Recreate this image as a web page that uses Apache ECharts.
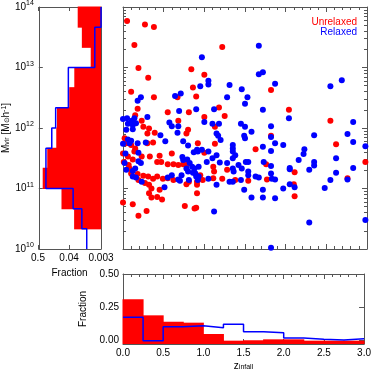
<!DOCTYPE html>
<html><head><meta charset="utf-8">
<script src="https://cdn.jsdelivr.net/npm/echarts@6/dist/echarts.min.js"></script>
<style>html,body{margin:0;padding:0;background:#fff}#c{width:374px;height:374px}</style>
</head><body><div id="c"></div><script>
// ---- data ----
// scatter points: [z_infall, log10(M_vir / (M_sun h^-1))]
const unrelaxedPoints = [
[0.05,13.77],[0.27,13.71],[0.38,13.67],[0.14,13.37],[1.22,13.34],[0.19,12.99],[0.31,12.83],[0.84,12.97],[1.00,12.88],[0.10,12.60],[0.86,12.67],[0.38,12.51],[0.90,12.52],[0.67,12.51],[1.18,12.34],[0.18,12.32],[1.82,12.63],[2.04,12.30],
[1.00,12.18],[1.25,12.20],[1.13,12.02],[1.82,11.87],[0.92,11.75],[1.13,11.74],[1.00,11.59],[1.63,11.65],[1.76,11.40],[1.11,11.36],[1.12,11.28],[1.28,11.31],[0.95,11.22],[0.98,11.14],[0.91,11.11],[1.11,11.17],[1.22,11.16],[1.38,11.14],[1.54,11.13],[1.77,11.15],[0.91,11.06],[0.91,10.92],[0.90,10.68],
[2.55,12.12],[2.62,11.73],[2.98,11.44],[2.11,11.27],[2.10,11.07],[2.11,10.87],[2.76,11.17],
[0.15,12.21],[0.23,12.12],[0.25,12.02],[0.32,11.99],[0.30,11.91],[0.39,11.92],[0.55,12.26],[0.81,12.26],[0.78,11.91],[0.80,11.97],[0.68,12.12],[0.37,11.76],[0.30,11.75],[0.02,11.83],[0.04,11.75],[0.10,11.72],[0.00,11.58],[0.01,11.44],[0.06,11.53],[0.07,11.39],[0.12,11.48],[0.23,11.53],[0.33,11.53],[0.14,11.61],[0.15,11.66],[0.45,11.54],[0.42,11.44],[0.47,11.44],[0.60,11.58],[0.55,11.40],[0.62,11.40],[0.68,11.39],[0.74,11.40],[0.78,11.39],[0.08,11.33],[0.10,11.25],[0.18,11.24],[0.25,11.21],[0.31,11.20],[0.37,11.16],[0.42,11.20],[0.49,11.16],[0.55,11.17],[0.62,11.14],[0.19,11.14],[0.27,11.09],[0.32,11.06],[0.35,11.00],[0.32,10.92],[0.35,10.85],[0.42,10.86],[0.48,10.82],[0.45,10.98],[0.78,11.07],[0.81,11.11],[0.00,10.77],[0.12,10.74],[0.19,10.55],[0.29,10.63],[0.76,10.71],[0.88,10.67]
];
const relaxedPoints = [
[0.97,13.17],[1.05,12.78],[1.05,12.72],[0.95,12.69],[1.31,12.71],[1.46,12.64],[0.71,12.57],[0.64,12.53],[0.22,12.51],[0.18,12.45],[1.28,12.51],[1.53,12.51],[1.50,12.40],[0.90,12.31],[1.12,12.31],[0.69,12.28],[1.67,13.36],[1.67,12.89],[1.72,12.92],[1.87,12.73],[2.55,12.69],[2.69,12.79],[1.72,12.30],
[1.00,12.10],[1.10,12.07],[1.18,12.07],[1.45,12.07],[1.50,12.02],[1.82,12.03],[1.58,11.94],[1.15,11.91],[1.17,11.87],[1.20,11.80],[1.49,11.87],[1.50,11.83],[1.82,11.85],[1.87,11.75],[1.97,11.72],[1.72,11.69],[1.82,11.62],[0.91,11.64],[0.97,11.64],[1.05,11.61],[1.35,11.72],[1.35,11.66],[1.35,11.61],[1.15,11.55],[1.10,11.50],[1.03,11.44],[1.19,11.43],[1.28,11.42],[1.35,11.50],[1.38,11.55],[1.42,11.39],[1.46,11.33],[1.51,11.44],[1.54,11.44],[1.54,11.28],[1.54,11.22],[1.73,11.44],[1.82,11.37],[1.82,11.25],[1.83,11.16],[1.87,11.15],[1.63,11.20],[1.67,11.18],[1.35,11.33],[1.36,11.28],[1.31,11.11],[1.35,11.11],[1.45,11.14],[0.93,11.36],[0.89,11.25],[0.93,11.20],[1.05,11.16],[1.15,11.06],[1.49,10.98],[1.58,10.85],[1.72,10.98],[1.72,10.85],[1.87,10.84],[1.97,11.00],[1.12,10.62],[1.82,10.02],
[2.04,12.16],[2.83,12.10],[2.35,11.88],[2.76,11.90],[2.83,11.77],[2.98,11.70],[2.23,11.65],[2.22,11.57],[2.16,11.47],[2.62,11.50],[2.35,11.44],[2.35,11.38],[2.05,11.34],[2.05,11.32],[2.29,11.31],[2.83,11.34],[2.62,11.26],[2.55,11.14],[2.76,11.15],[2.05,11.07],[2.11,11.02],[2.48,11.01],[2.29,10.44],[2.98,10.48],
[0.00,12.15],[0.05,12.16],[0.11,12.12],[0.14,12.16],[0.06,12.07],[0.12,12.05],[0.16,12.08],[0.30,12.18],[0.04,11.97],[0.12,11.98],[0.57,12.09],[0.60,12.03],[0.68,12.03],[0.67,11.92],[0.46,11.88],[0.06,11.81],[0.10,11.79],[0.08,11.75],[0.00,11.74],[0.28,11.76],[0.18,11.75],[0.52,11.78],[0.74,11.78],[0.80,11.71],[0.92,11.61],[0.87,11.60],[0.03,11.58],[0.19,11.59],[0.19,11.45],[0.22,11.42],[0.15,11.33],[0.12,11.29],[0.04,11.31],[0.02,11.42],[0.12,11.20],[0.16,11.18],[0.23,11.11],[0.73,11.52],[0.74,11.47],[0.79,11.48],[0.82,11.42],[0.85,11.36],[0.88,11.33],[0.78,11.33],[0.80,11.28],[0.72,11.22],[0.68,11.15],[0.70,11.13],[0.60,11.22],[0.55,11.18],[0.51,11.02],[0.86,11.26],[0.90,11.20],[0.92,11.14],[0.81,11.14]
];
// mass histogram (left panel): bin edges in M_vir, fractions per bin (bottom to top)
const massBinEdges = [1e10,2.154e10,4.642e10,1e11,2.154e11,4.642e11,1e12,2.154e12,4.642e12,1e13,2.154e13,4.642e13,1e14];
const massFracUnrelaxed = [0, 0.0274, 0.0774, 0.363, 0.250, 0.119, 0.112, 0.041, 0.027, 0.0070, 0.0145, 0.0204];
const massFracRelaxed   = [0.0097, 0.0145, 0.0297, 0.278, 0.278, 0.172, 0.125, 0.044, 0.044, 0.005, 0.005, 0];
// z_infall histogram (bottom panel)
const zBinEdges = [0,0.25,0.5,0.75,1.0,1.25,1.5,1.75,2.0,2.25,2.5,2.75,3.0];
const zFracUnrelaxed = [0.31, 0.19, 0.142, 0.135, 0.05, 0, 0.003, 0.01, 0.01, 0, 0, 0];
const zFracRelaxed   = [0.175, 0.0, 0.105, 0.1125, 0.0975, 0.1225, 0.0675, 0.06, 0.02, 0.01, 0.005, 0.015];
const massTickExponents = [10,11,12,13,14];
const fracTickLabels = [0.5, 0.04, 0.003];
const zFracTicks = [0, 0.25, 0.5];

// ---- setup ----
const FONT = '"Liberation Sans", Arial, Helvetica, sans-serif';
const AX = '#555';
const RED = '#ff0000', BLUE = '#0000ff';
const massMin = 1e10, massMax = 1e14, fracMin = 0.003, fracMax = 0.5;
const zFracMin = -0.025, zFracMax = 0.5;

const minorLog = [];
for (let n = 10; n < 14; n++) for (let k = 2; k <= 9; k++) minorLog.push(n + Math.log10(k));

const toMass = p => [p[0], Math.pow(10, p[1])];
const leftRedData = [], leftBlueLine = [];
for (let i = 0; i < massFracUnrelaxed.length; i++) {
  if (massFracUnrelaxed[i] > 0) leftRedData.push([massBinEdges[i], massBinEdges[i+1], massFracUnrelaxed[i]]);
  const f = Math.max(massFracRelaxed[i], fracMin);
  leftBlueLine.push([f, massBinEdges[i]], [f, massBinEdges[i+1]]);
}
const botRedData = [], botBlueLine = [];
for (let i = 0; i < zFracUnrelaxed.length; i++) {
  botRedData.push([zBinEdges[i], zBinEdges[i+1], zFracUnrelaxed[i]]);
  botBlueLine.push([zBinEdges[i], zFracRelaxed[i]], [zBinEdges[i+1], zFracRelaxed[i]]);
}

const txt = {fontFamily: FONT, fontSize: 10, color: '#000'};
const rich = {
  b: {fontFamily: FONT, fontSize: 10, lineHeight: 14, color: '#000'},
  sup: {fontFamily: FONT, fontSize: 7, lineHeight: 9, verticalAlign: 'top', color: '#000'},
  sub: {fontFamily: FONT, fontSize: 7, lineHeight: 9, verticalAlign: 'bottom', color: '#000'}
};
const line = {show: true, onZero: false, lineStyle: {color: AX, width: 1}};
const noSplit = {show: false};

function frameAxis(extra) {
  return Object.assign({axisLine: line, splitLine: noSplit, axisLabel: {show: false}, axisTick: {show: false}}, extra);
}

const option = {
  animation: false,
  backgroundColor: '#fff',
  textStyle: {fontFamily: FONT},
  legend: [
    {data: [{name: 'Unrelaxed', icon: 'none', textStyle: {color: RED}}], right: 17, top: 17, itemWidth: 0, itemHeight: 0, padding: 0, selectedMode: false, textStyle: {fontFamily: FONT, fontSize: 10}},
    {data: [{name: 'Relaxed', icon: 'none', textStyle: {color: BLUE}}], right: 17, top: 27, itemWidth: 0, itemHeight: 0, padding: 0, selectedMode: false, textStyle: {fontFamily: FONT, fontSize: 10}}
  ],
  grid: [
    {left: 123, top: 7, width: 244, height: 242},
    {left: 38, top: 7, width: 63, height: 242},
    {left: 123, top: 274, width: 244, height: 70},
    {left: 123, top: 7, width: 244, height: 242},
    {left: 38, top: 7, width: 63, height: 242}
  ],
  xAxis: [
    frameAxis({gridIndex: 0, type: 'value', min: 0, max: 3, interval: 0.5, position: 'bottom',
      axisTick: {show: true, inside: true, length: 5, lineStyle: {color: AX}}, minorTick: {show: true, splitNumber: 5, length: 3, lineStyle: {color: AX}}}),
    frameAxis({gridIndex: 0, type: 'value', min: 0, max: 3, interval: 0.5, position: 'top',
      axisTick: {show: true, inside: true, length: 5, lineStyle: {color: AX}}, minorTick: {show: true, splitNumber: 5, length: 3, lineStyle: {color: AX}}}),
    frameAxis({gridIndex: 1, type: 'log', logBase: 10, min: fracMin, max: fracMax, inverse: true, position: 'bottom'}),
    frameAxis({gridIndex: 1, type: 'log', logBase: 10, min: fracMin, max: fracMax, inverse: true, position: 'top'}),
    frameAxis({gridIndex: 2, type: 'value', min: 0, max: 3, interval: 0.5, position: 'bottom',
      axisTick: {show: true, inside: true, length: 5, lineStyle: {color: AX}}, minorTick: {show: true, splitNumber: 5, length: 3, lineStyle: {color: AX}},
      axisLabel: Object.assign({show: true, margin: 4, formatter: v => v.toFixed(1)}, txt),
      name: 'z{sub|infall}', nameLocation: 'middle', nameGap: 17, nameTextStyle: Object.assign({rich: rich}, txt)}),
    frameAxis({gridIndex: 2, type: 'value', min: 0, max: 3, interval: 0.5, position: 'top',
      axisTick: {show: true, inside: true, length: 5, lineStyle: {color: AX}}, minorTick: {show: true, splitNumber: 5, length: 3, lineStyle: {color: AX}}}),
    {gridIndex: 3, type: 'value', show: false, min: 0, max: 1},
    {gridIndex: 4, type: 'value', min: Math.log10(fracMin), max: Math.log10(fracMax), inverse: true, position: 'bottom',
      axisLine: {show: false}, splitLine: noSplit,
      axisTick: {show: true, inside: true, length: 4, customValues: fracTickLabels.map(Math.log10), lineStyle: {color: AX}},
      axisLabel: Object.assign({show: true, margin: 4, customValues: fracTickLabels.map(Math.log10),
        formatter: v => String(+Math.pow(10, v).toPrecision(1))}, txt),
      name: 'Fraction', nameLocation: 'middle', nameGap: 16, nameTextStyle: txt},
    {gridIndex: 4, type: 'value', min: Math.log10(fracMin), max: Math.log10(fracMax), inverse: true, position: 'top',
      axisLine: {show: false}, splitLine: noSplit, axisLabel: {show: false},
      axisTick: {show: true, inside: true, length: 4, customValues: fracTickLabels.map(Math.log10), lineStyle: {color: AX}}}
  ],
  yAxis: [
    frameAxis({gridIndex: 0, type: 'log', logBase: 10, min: massMin, max: massMax, position: 'left',
      axisTick: {show: true, inside: true, length: 5, lineStyle: {color: AX}}}),
    frameAxis({gridIndex: 0, type: 'log', logBase: 10, min: massMin, max: massMax, position: 'right',
      axisTick: {show: true, inside: true, length: 5, lineStyle: {color: AX}}}),
    frameAxis({gridIndex: 1, type: 'log', logBase: 10, min: massMin, max: massMax, position: 'left',
      axisTick: {show: true, inside: true, length: 4, lineStyle: {color: AX}},
      axisLabel: {show: true, margin: 5, formatter: v => '{b|10}{sup|' + Math.round(Math.log10(v)) + '}', rich: rich},
      name: 'M{sub|vir} [M{sub|⊙}h{sup|-1}]', nameLocation: 'middle', nameRotate: 90, nameGap: 24, nameTextStyle: Object.assign({rich: rich}, txt)}),
    frameAxis({gridIndex: 1, type: 'log', logBase: 10, min: massMin, max: massMax, position: 'right'}),
    frameAxis({gridIndex: 2, type: 'value', min: zFracMin, max: zFracMax, position: 'left',
      axisTick: {show: true, inside: true, length: 5, customValues: zFracTicks, lineStyle: {color: AX}},
      axisLabel: Object.assign({show: true, margin: 4, customValues: zFracTicks, formatter: v => v.toFixed(2)}, txt),
      name: 'Fraction', nameLocation: 'middle', nameRotate: 90, nameGap: 26, nameTextStyle: txt}),
    frameAxis({gridIndex: 2, type: 'value', min: zFracMin, max: zFracMax, position: 'right',
      axisTick: {show: true, inside: true, length: 5, customValues: zFracTicks, lineStyle: {color: AX}}}),
    {gridIndex: 3, type: 'value', min: 10, max: 14, position: 'left', axisLine: {show: false}, splitLine: noSplit, axisLabel: {show: false},
      axisTick: {show: true, inside: true, length: 3, customValues: minorLog, lineStyle: {color: AX}}},
    {gridIndex: 3, type: 'value', min: 10, max: 14, position: 'right', axisLine: {show: false}, splitLine: noSplit, axisLabel: {show: false},
      axisTick: {show: true, inside: true, length: 3, customValues: minorLog, lineStyle: {color: AX}}},
    {gridIndex: 4, type: 'value', show: false, min: 0, max: 1}
  ],
  series: [
    {name: 'Unrelaxed', type: 'scatter', xAxisIndex: 0, yAxisIndex: 0, symbol: 'circle', symbolSize: 6,
      itemStyle: {color: RED, opacity: 1}, data: unrelaxedPoints.map(toMass), z: 3},
    {name: 'Relaxed', type: 'scatter', xAxisIndex: 0, yAxisIndex: 0, symbol: 'circle', symbolSize: 6,
      itemStyle: {color: BLUE, opacity: 1}, data: relaxedPoints.map(toMass), z: 4},
    {type: 'custom', xAxisIndex: 2, yAxisIndex: 2, data: leftRedData, encode: {x: 2, y: [0, 1]},
      renderItem: (params, api) => {
        const p0 = api.coord([fracMin, api.value(0)]), p1 = api.coord([api.value(2), api.value(1)]);
        return {type: 'rect', shape: {x: Math.min(p0[0], p1[0]), y: Math.min(p0[1], p1[1]) - 0.5, width: Math.abs(p1[0] - p0[0]), height: Math.abs(p1[1] - p0[1]) + 1}, style: {fill: RED}};
      }, z: 3},
    {type: 'line', xAxisIndex: 2, yAxisIndex: 2, data: leftBlueLine, showSymbol: false, symbol: 'none',
      lineStyle: {color: BLUE, width: 1.5}, z: 4},
    {type: 'custom', xAxisIndex: 4, yAxisIndex: 4, data: botRedData, encode: {x: [0, 1], y: 2},
      renderItem: (params, api) => {
        const p0 = api.coord([api.value(0), zFracMin]), p1 = api.coord([api.value(1), api.value(2)]);
        return {type: 'rect', shape: {x: Math.min(p0[0], p1[0]) - 0.5, y: Math.min(p0[1], p1[1]), width: Math.abs(p1[0] - p0[0]) + 1, height: Math.abs(p1[1] - p0[1])}, style: {fill: RED}};
      }, z: 3},
    {type: 'line', xAxisIndex: 4, yAxisIndex: 4, data: botBlueLine, showSymbol: false, symbol: 'none',
      lineStyle: {color: BLUE, width: 1.5}, z: 4}
  ]
};
const chart = echarts.init(document.getElementById('c'));
chart.setOption(option);
</script></body></html>
